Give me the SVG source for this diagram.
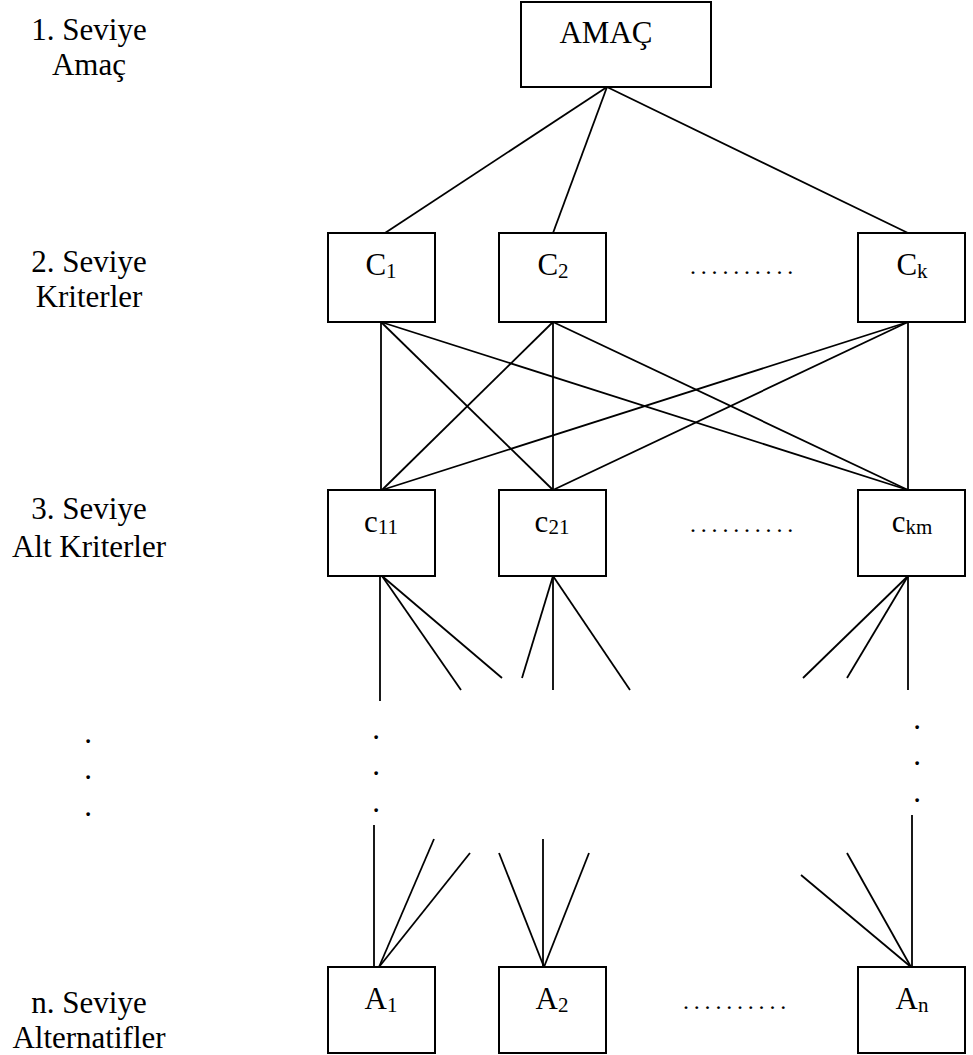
<svg xmlns="http://www.w3.org/2000/svg" width="973" height="1055" viewBox="0 0 973 1055" font-family="'Liberation Serif', 'Times New Roman', serif">
<style>
.box{fill:#fff;stroke:#000;stroke-width:2}
.ln{stroke:#000;stroke-width:1.8;fill:none}
.t{font-family:'Liberation Serif','Times New Roman',serif;font-size:31px;fill:#000}
.m{text-anchor:middle}
.sub{font-size:21px}
.dots{font-family:'Liberation Serif','Times New Roman',serif;font-size:24px;letter-spacing:4.8px;fill:#000}
</style>
<rect width="973" height="1055" fill="#fff"/>
<g id="labels" class="t m">
<text x="89" y="40">1. Seviye</text>
<text x="89" y="75">Amaç</text>
<text x="89" y="272">2. Seviye</text>
<text x="89" y="307">Kriterler</text>
<text x="89" y="519">3. Seviye</text>
<text x="89" y="557">Alt Kriterler</text>
<text x="89" y="1013">n. Seviye</text>
<text x="89" y="1048">Alternatifler</text>
<text x="88" y="743">.</text>
<text x="88" y="779">.</text>
<text x="88" y="816">.</text>
</g>
<g id="connectors" class="ln">
<line x1="607" y1="87" x2="385" y2="233"/>
<line x1="607" y1="87" x2="553" y2="233"/>
<line x1="607" y1="87" x2="908" y2="233"/>
<line x1="381" y1="322" x2="381" y2="490"/>
<line x1="381" y1="322" x2="553" y2="490"/>
<line x1="381" y1="322" x2="908" y2="490"/>
<line x1="553" y1="322" x2="382" y2="490"/>
<line x1="553" y1="322" x2="553" y2="490"/>
<line x1="553" y1="322" x2="908" y2="490"/>
<line x1="908" y1="322" x2="382" y2="490"/>
<line x1="908" y1="322" x2="553" y2="490"/>
<line x1="908" y1="322" x2="908" y2="490"/>
<line x1="380" y1="576" x2="380" y2="701"/>
<line x1="382" y1="576" x2="461" y2="690"/>
<line x1="382" y1="576" x2="502" y2="678"/>
<line x1="553" y1="576" x2="522" y2="678"/>
<line x1="553" y1="576" x2="553" y2="690"/>
<line x1="553" y1="576" x2="630" y2="690"/>
<line x1="908" y1="576" x2="803" y2="678"/>
<line x1="908" y1="576" x2="847" y2="678"/>
<line x1="908" y1="576" x2="908" y2="690"/>
<line x1="374" y1="825" x2="374" y2="967"/>
<line x1="434" y1="839" x2="379" y2="967"/>
<line x1="470" y1="853" x2="379" y2="967"/>
<line x1="499" y1="853" x2="544" y2="967"/>
<line x1="543" y1="839" x2="543" y2="967"/>
<line x1="589" y1="853" x2="544" y2="967"/>
<line x1="801" y1="875" x2="911" y2="967"/>
<line x1="847" y1="853" x2="911" y2="967"/>
<line x1="912" y1="815" x2="912" y2="967"/>
</g>
<g id="vdots" class="t m">
<text x="376" y="739">.</text>
<text x="376" y="775">.</text>
<text x="376" y="812">.</text>
<text x="917" y="729">.</text>
<text x="917" y="765">.</text>
<text x="917" y="802">.</text>
</g>
<g id="amac"><rect class="box" x="521" y="2" width="190" height="85"/><text class="t m" x="606" y="43">AMAÇ</text></g>
<g id="C1"><rect class="box" x="328" y="233" width="107" height="89"/><text class="t m" x="381" y="275">C<tspan class="sub" dy="3">1</tspan></text></g>
<g id="C2"><rect class="box" x="499" y="233" width="107" height="89"/><text class="t m" x="553" y="275">C<tspan class="sub" dy="3">2</tspan></text></g>
<g id="Ck"><rect class="box" x="858" y="233" width="107" height="89"/><text class="t m" x="912" y="275">C<tspan class="sub" dy="3">k</tspan></text></g>
<g id="dotsC"><text class="dots" x="690" y="274">..........</text></g>
<g id="c11"><rect class="box" x="328" y="490" width="107" height="86"/><text class="t m" x="381" y="532">c<tspan class="sub" dy="2">11</tspan></text></g>
<g id="c21"><rect class="box" x="499" y="490" width="107" height="86"/><text class="t m" x="552" y="532">c<tspan class="sub" dy="2">21</tspan></text></g>
<g id="ckm"><rect class="box" x="858" y="490" width="107" height="86"/><text class="t m" x="912" y="532">c<tspan class="sub" dy="2">km</tspan></text></g>
<g id="dotsc"><text class="dots" x="690" y="532">..........</text></g>
<g id="A1"><rect class="box" x="328" y="967" width="107" height="86"/><text class="t m" x="381" y="1009">A<tspan class="sub" dy="3">1</tspan></text></g>
<g id="A2"><rect class="box" x="499" y="967" width="107" height="86"/><text class="t m" x="552" y="1009">A<tspan class="sub" dy="3">2</tspan></text></g>
<g id="An"><rect class="box" x="858" y="967" width="107" height="86"/><text class="t m" x="912" y="1009">A<tspan class="sub" dy="3">n</tspan></text></g>
<g id="dotsA"><text class="dots" x="683" y="1009">..........</text></g>
</svg>
